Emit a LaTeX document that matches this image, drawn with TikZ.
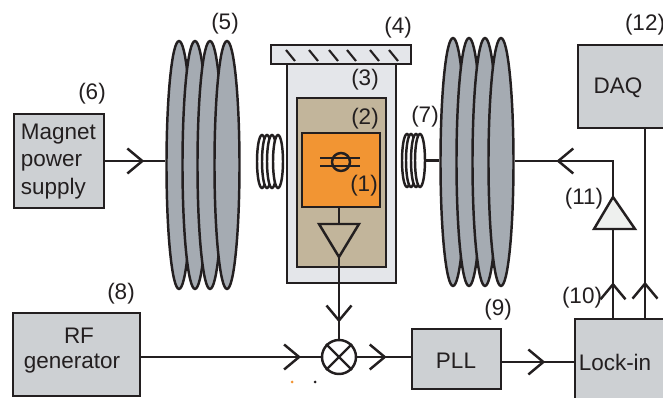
\documentclass[tikz,border=0pt]{standalone}
\usepackage{fontspec}
\setmainfont{Liberation Sans}
\usetikzlibrary{arrows.meta,decorations.markings,shapes.geometric}
\definecolor{inkline}{HTML}{231F20}
\definecolor{magnetgray}{HTML}{A5ABB2}
\definecolor{boxgray}{HTML}{CDD0D3}
\definecolor{shieldgray}{HTML}{E4E6EA}
\definecolor{samplebrown}{HTML}{C2B59B}
\definecolor{chiporange}{HTML}{F29533}
\definecolor{ampgray}{HTML}{EEF0EE}
\tikzset{
    instr/.style={rectangle,draw=inkline,fill=boxgray,line width=1.4pt,inner sep=0pt,align=center,text=inkline},
    lbl/.style={text=inkline,inner sep=0pt,yshift=-.03cm},
    magnet/.style={ellipse,draw=inkline,fill=magnetgray,line width=1.4pt,inner sep=0pt,minimum width=.5cm,minimum height=4.96cm},
    loopcoil/.style={ellipse,draw=inkline,fill=white,line width=1.4pt,inner sep=0pt,minimum width=.2cm,minimum height=1.06cm},
    wire/.style={draw=inkline,line width=1.4pt},
    chevron/.style={postaction={decorate},decoration={markings,mark=at position #1 with {\arrow[inkline,line width=1.4pt]{Straight Barb[length=3mm,width=5mm]}}}}
}
\begin{document}
\begin{tikzpicture}[x=.02cm,y=-.02cm,font=\fontsize{12.8}{15.5}\selectfont]
        \useasboundingbox (0,0) rectangle (663,398);
        % field coils
        \foreach \cx/\cn in {179/ml1,195/ml2,210/ml3,227/ml4}
            \node [magnet] (\cn) at (\cx,165) {};
        \foreach \cx/\cn in {453/mr1,469/mr2,485/mr3,501/mr4}
            \node [magnet] (\cn) at (\cx,162) {};
        % cryostat
        \node [rectangle,draw=inkline,fill=shieldgray,line width=1.4pt,minimum width=2.18cm,minimum height=4.38cm] (shield) at (341.5,173.5) {};
        \node [rectangle,draw=inkline,fill=shieldgray,line width=1.4pt,minimum width=2.8cm,minimum height=.38cm] (plate) at (341,54.5) {};
        \foreach \hx in {286,309,329,347,370,389}
            \draw [draw=inkline,line width=1.2pt] (\hx,50) -- +(9,11);
        \node [rectangle,draw=inkline,fill=samplebrown,line width=1.4pt,minimum width=1.78cm,minimum height=3.38cm] (can) at (341.5,182.5) {};
        \node [rectangle,draw=inkline,fill=chiporange,line width=1.4pt,minimum width=1.56cm,minimum height=1.48cm] (chip) at (341,170) {};
        % device symbol
        \node [circle,draw=inkline,line width=1.4pt,minimum size=.36cm,inner sep=0pt] (squid) at (341,162) {};
        \coordinate (devL1) at (320,158); \coordinate (devR1) at (360,158);
        \coordinate (devL2) at (320,166); \coordinate (devR2) at (360,166);
        \draw [wire] (devL1) -- (devR1);
        \draw [wire] (devL2) -- (devR2);
        % amplifiers
        \draw [wire,fill=samplebrown] (319,224) coordinate (ampA) -- (359,224) -- (339,257) coordinate (ampB) -- cycle;
        \draw [wire] (chip.south -| ampB) -- (ampA -| ampB);
        \draw [wire,fill=ampgray] (594,229) coordinate (ampC) -- (635,229) -- (613,197) coordinate (ampD) -- cycle;
        % small coils
        \foreach \cx/\cn in {262/cl1,267/cl2,272/cl3,278/cl4}
            \node [loopcoil] (\cn) at (\cx,161.5) {};
        \foreach \cx/\cn in {407/cr1,411/cr2,416/cr3,420/cr4}
            \node [loopcoil] (\cn) at (\cx,160.5) {};
        \draw [wire] (cr4.east) -- (mr1.west |- cr4.east);
        % instruments
        \node [instr,minimum width=1.8cm,minimum height=1.88cm] (supply) at (59,161) {};
        \node [lbl,align=left,anchor=west] (supplytext) at (20.5,160) {Magnet\\power\\supply};
        \node [instr,minimum width=2.54cm,minimum height=1.66cm] (rfgen) at (76.5,354.5) {};
        \node [lbl] (rftext) at (79,334) {RF};
        \node [lbl] (gentext) at (72,362) {generator};
        \node [instr,minimum width=1.78cm,minimum height=1.2cm] (pll) at (456.5,359) {};
        \node [lbl] (plltext) at (456,359) {PLL};
        \node [circle,draw=inkline,fill=white,line width=1.4pt,minimum size=.68cm,inner sep=0pt] (mixer) at (339,357) {};
        \draw [wire] (mixer.north west) -- (mixer.south east);
        \draw [wire] (mixer.north east) -- (mixer.south west);
        \node [instr,minimum width=2cm,minimum height=1.66cm,anchor=north west] (daq) at (577,44) {};
        \coordinate (daqout) at (645,127);
        \node [lbl] (daqtext) at (618,86) {DAQ};
        \node [instr,minimum width=2cm,minimum height=1.8cm,anchor=north west] (lockin) at (574,318) {};
        \node [lbl] (locktext) at (615,361) {Lock-in};
        % connectors
        \draw [wire,chevron=.65] (supply.east) -- (ml1.west |- supply.east);
        \draw [wire,chevron=.89] (rfgen.east |- mixer.west) -- (mixer.west);
        \draw [wire,chevron=.8] (ampB) -- (mixer.north);
        \draw [wire,chevron=.55] (mixer.east) -- (mixer.east -| pll.west);
        \draw [wire,chevron=.6] (pll.east |- 0,362) -- (lockin.west |- 0,362);
        \draw [wire,chevron=.4] (lockin.north -| ampD) -- (ampC -| ampD);
        \draw [wire,chevron=.69] (ampD) -- (613,161) -- (mr4.east |- 0,161);
        \draw [wire,chevron=.19] (lockin.north -| daqout) -- (daqout);
        % labels
        \node [lbl] (n1) at (364,184) {(1)};
        \node [lbl] (n2) at (365,117) {(2)};
        \node [lbl] (n3) at (365,78) {(3)};
        \node [lbl] (n4) at (398,26) {(4)};
        \node [lbl] (n5) at (225,22.5) {(5)};
        \node [lbl] (n6) at (92,92) {(6)};
        \node [lbl] (n7) at (425,115) {(7)};
        \node [lbl] (n8) at (121,292) {(8)};
        \node [lbl] (n9) at (498,308) {(9)};
        \node [lbl] (n10) at (582,296) {(10)};
        \node [lbl] (n11) at (584,197) {(11)};
        \node [lbl] (n12) at (645,23) {(12)};
        % specks
        \fill [chiporange] (292,382) circle (1.5);
        \fill [inkline] (315,382) circle (1.5);
    \end{tikzpicture}
\end{document}
